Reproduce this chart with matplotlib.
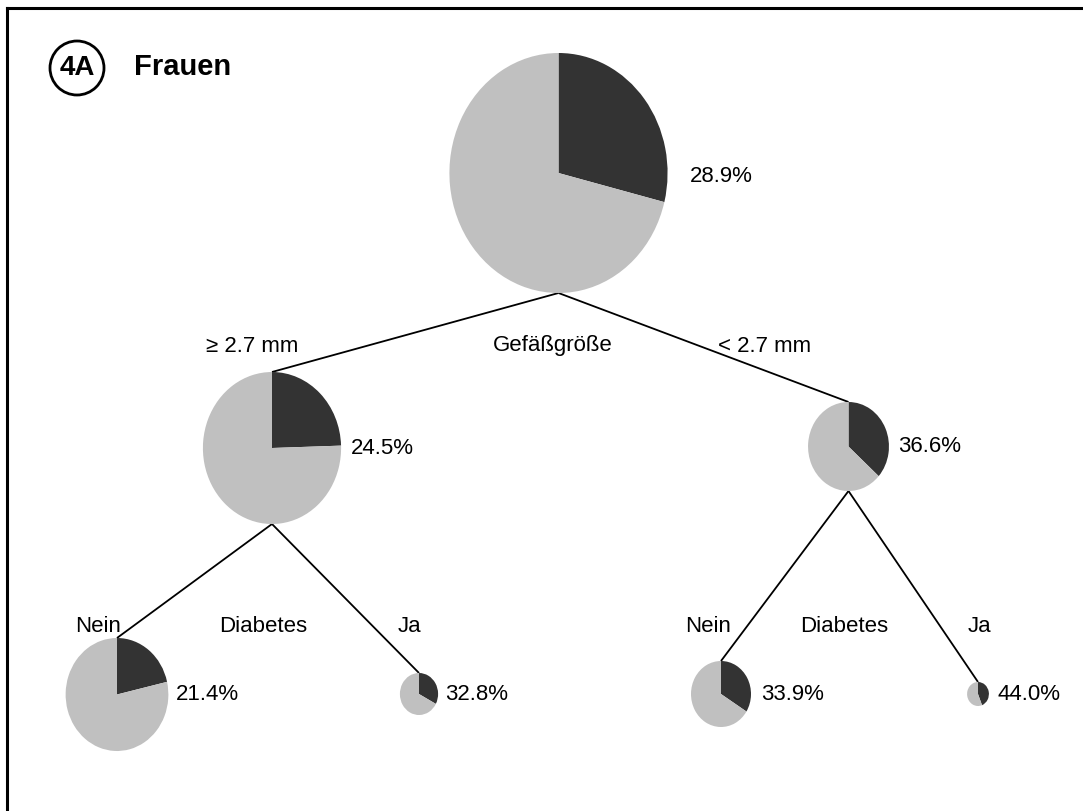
import matplotlib
matplotlib.use("Agg")
import matplotlib.pyplot as plt
from matplotlib.patches import Ellipse

plt.rcParams['font.family'] = ['Liberation Sans', 'DejaVu Sans']

# ---- data ----
node_names = ["root", "ge27", "lt27", "ge27_nein", "ge27_ja", "lt27_nein", "lt27_ja"]
pct = [28.9, 24.5, 36.6, 21.4, 32.8, 33.9, 44.0]
parent = [None, 0, 0, 1, 1, 2, 2]
split_labels = ["Gefäßgröße", "Diabetes", "Diabetes"]
branch_labels = ["≥ 2.7 mm", "< 2.7 mm", "Nein", "Ja", "Nein", "Ja"]
title = "Frauen"
panel = "4A"

# ---- layout (pixel coordinates, y downward) ----
W, H = 1083, 811
ASP = 1.1  # pies are drawn slightly taller than wide
cx = [558.5, 272, 848.5, 117, 419, 721, 978]
cy = [173, 448, 446.5, 694.5, 694, 694, 694]
ry = [120, 76, 44.5, 56.5, 21, 33, 12]
lab_off = [22, 10, 9, 8, 7, 10, 9]
lab_dy = [4, 0, 0, 0, 0, 0, 0]
split_pos = [(553, 346), (263, 626), (844, 626)]
branch_pos = [(252, 346), (765, 346), (98, 626), (409, 626), (708, 626), (979, 626)]

DARK = "#333333"
LIGHT = "#c0c0c0"

fig = plt.figure(figsize=(W / 100, H / 100), dpi=100)
ax = fig.add_axes([0, 0, 1, 1])

# connecting lines
for i, p in enumerate(parent):
    if p is None:
        continue
    ax.plot([cx[p] * ASP, cx[i] * ASP], [cy[p] + ry[p], cy[i] - ry[i]],
            color="black", lw=1.3, zorder=1, solid_capstyle="butt")

# pies (y axis is inverted, so counterclockwise in data = clockwise on screen)
for i, v in enumerate(pct):
    ax.pie([v, 100 - v], colors=[DARK, LIGHT], startangle=-90, counterclock=True,
           radius=ry[i], center=(cx[i] * ASP, cy[i]), frame=True,
           wedgeprops=dict(linewidth=0, zorder=2))
    ax.text((cx[i] + ry[i] / ASP + lab_off[i]) * ASP, cy[i] + lab_dy[i], f"{v:.1f}%",
            ha="left", va="center", fontsize=16)

for s, (x, y) in zip(split_labels, split_pos):
    ax.text(x * ASP, y, s, ha="center", va="center", fontsize=16)
for s, (x, y) in zip(branch_labels, branch_pos):
    ax.text(x * ASP, y, s, ha="center", va="center", fontsize=16)

# panel marker and title
ax.add_patch(Ellipse((77 * ASP, 68), 54 * ASP, 54, fill=False, lw=2, edgecolor="black"))
ax.text(77 * ASP, 68, panel, ha="center", va="center", fontsize=20, fontweight="bold")
ax.text(134 * ASP, 67, title, ha="left", va="center", fontsize=21, fontweight="bold")

# border (top and left visible)
ax.plot([7.5 * ASP, W * ASP], [7.5, 7.5], color="black", lw=2.2)
ax.plot([7.5 * ASP, 7.5 * ASP], [7.5, H], color="black", lw=2.2)

ax.set_xlim(0, W * ASP)
ax.set_ylim(H, 0)
ax.set_aspect("auto")
ax.axis("off")

fig.savefig("out.png", dpi=100, facecolor="white")
